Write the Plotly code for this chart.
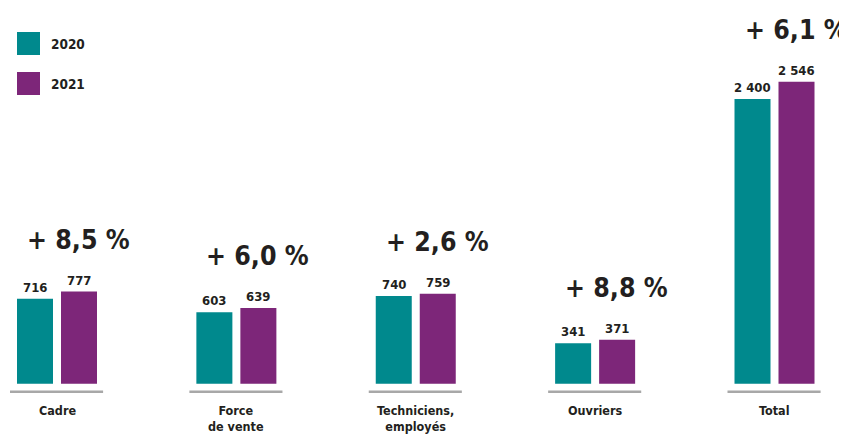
import plotly.graph_objects as go

categories = ["Cadre", "Force<br>de vente", "Techniciens,<br>employés", "Ouvriers", "Total"]
values_2020 = [716, 603, 740, 341, 2400]
values_2021 = [777, 639, 759, 371, 2546]
series_names = ["2020", "2021"]

COL_2020 = "#00898D"
COL_2021 = "#7D2679"
TEXT = "#231F20"
FONT = "DejaVu Sans Condensed, Liberation Sans Narrow, sans-serif"

PAGE = 8                    # default body margin of the html page
W, H = 847 - PAGE, 435 - PAGE
UNIT_PX = 179.375           # pixels per category
FIRST_PX = 57 - PAGE        # pixel of first category centre
BASE_PX = 383.7 - PAGE      # pixel row of value 0
VAL_PER_PX = 2400 / 284.7

x_range = [-FIRST_PX / UNIT_PX, (W - FIRST_PX) / UNIT_PX]
y_range = [-(H - BASE_PX) * VAL_PER_PX, BASE_PX * VAL_PER_PX]

xpos = list(range(len(categories)))


def fmt(v):
    return f"{v:,}".replace(",", " ")


def py(p):
    """reference pixel row -> paper y"""
    return 1 - (p - PAGE) / H


def px(p):
    """reference pixel column -> paper x"""
    return (p - PAGE) / W


fig = go.Figure()
fig.add_trace(go.Bar(x=xpos, y=values_2020, name=series_names[0],
                     marker=dict(color=COL_2020, line=dict(width=0))))
fig.add_trace(go.Bar(x=xpos, y=values_2021, name=series_names[1],
                     marker=dict(color=COL_2021, line=dict(width=0))))

slot = 44 / UNIT_PX
annotations = []
shapes = []
for i, (a, b) in enumerate(zip(values_2020, values_2021)):
    for off, v in ((-slot / 2, a), (slot / 2, b)):
        annotations.append(dict(x=i + off, y=v, xref="x", yref="y", text=fmt(v),
                                showarrow=False, yanchor="bottom", yshift=2,
                                font=dict(family=FONT, size=13, color=TEXT, weight="bold")))
    pct = (b / a - 1) * 100
    ptxt = "+ " + f"{pct:.1f}".replace(".", ",") + " %"
    annotations.append(dict(x=i + 0.12, y=b, xref="x", yref="y", text=ptxt,
                            showarrow=False, yanchor="bottom", yshift=35,
                            font=dict(family=FONT, size=26.5, color=TEXT, weight="bold")))
    annotations.append(dict(x=i, y=py(401), xref="x", yref="paper", text=categories[i],
                            showarrow=False, yanchor="top",
                            font=dict(family=FONT, size=12.5, color=TEXT, weight="bold")))
    shapes.append(dict(type="line", xref="x", yref="y",
                       x0=i - 0.262, x1=i + 0.257, y0=-8 * VAL_PER_PX, y1=-8 * VAL_PER_PX,
                       line=dict(color="#A8A8A8", width=2.5)))

for name, col, top in zip(series_names, [COL_2020, COL_2021], [32, 72]):
    shapes.append(dict(type="rect", xref="paper", yref="paper",
                       x0=px(17), x1=px(40), y0=py(top + 23), y1=py(top),
                       fillcolor=col, line=dict(width=0)))
    annotations.append(dict(x=px(49), y=py(top + 12), xref="paper", yref="paper",
                            text=name, showarrow=False, xanchor="left", yanchor="middle",
                            font=dict(family=FONT, size=13.5, color=TEXT, weight="bold")))

fig.update_layout(
    width=W, height=H,
    margin=dict(l=0, r=0, t=0, b=0),
    paper_bgcolor="white", plot_bgcolor="white",
    barmode="group", bargap=0.5094, bargroupgap=0.1818,
    showlegend=False,
    xaxis=dict(range=x_range, visible=False, fixedrange=True),
    yaxis=dict(range=y_range, visible=False, fixedrange=True),
    annotations=annotations, shapes=shapes,
)

fig.write_html("out.html")
